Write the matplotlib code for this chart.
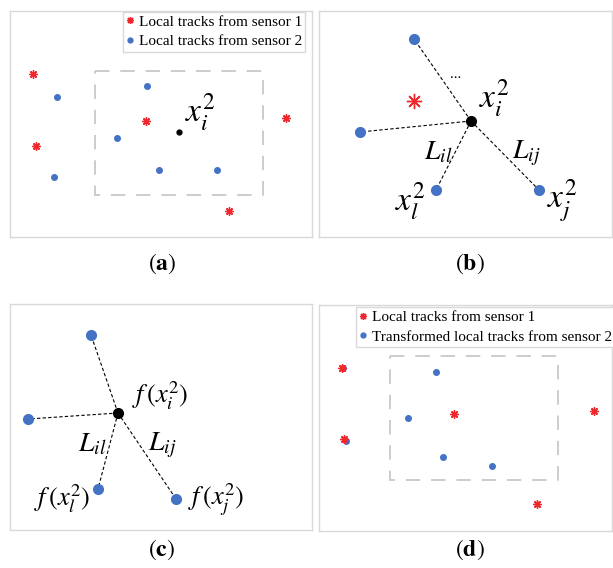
import matplotlib
matplotlib.use('Agg')
import matplotlib.pyplot as plt
from matplotlib.lines import Line2D
from matplotlib.patches import Rectangle

plt.rcParams['font.family'] = ['Liberation Serif', 'DejaVu Serif']
plt.rcParams['mathtext.fontset'] = 'stix'

W, H = 613, 568

# panel frames in image pixels: left, top, width, height
panel_a = (10, 11, 302, 226)
panel_b = (319, 11, 293, 226)
panel_c = (10, 304, 302, 226)
panel_d = (319, 305, 293, 226)

# (a) local tracks, pixel coords inside panel
a_red_x = [23, 26, 136, 276, 219]
a_red_y = [63, 135, 110, 107, 200]
a_blue_x = [47, 44, 137, 107, 149, 207]
a_blue_y = [86, 166, 75, 127, 159, 159]
a_center = (169, 121)
a_gate = (85, 60, 168, 124)

# (b) neighbourhood of x_i^2
b_blue_x = [95, 41, 117, 220]
b_blue_y = [28, 121, 179, 179]
b_center = (152, 110)
b_red = (95, 90)

# (c) transformed neighbourhood
c_blue_x = [81, 18, 88, 166]
c_blue_y = [31, 115, 185, 195]
c_center = (108, 109)

# (d) sensor 1 and transformed sensor 2 tracks
d_red_x = [23, 25, 135, 275, 218]
d_red_y = [63, 134, 109, 106, 199]
d_blue_x = [24, 27, 117, 89, 124, 173]
d_blue_y = [63, 136, 67, 113, 152, 161]
d_gate = (71, 51, 168, 124)

RED = '#F0282D'
BLUE = '#4472C4'
FRAME = '#D9D9D9'
ASTER = (8, 2, 0)

fig = plt.figure(figsize=(W / 100, H / 100), dpi=100)


def make_panel(p):
    l, t, w, h = p
    ax = fig.add_axes([l / W, 1 - (t + h) / H, w / W, h / H])
    ax.set_xlim(0, w)
    ax.set_ylim(h, 0)
    ax.set_xticks([])
    ax.set_yticks([])
    for s in ax.spines.values():
        s.set_color(FRAME)
        s.set_linewidth(1.0)
    return ax


def gate(ax, g):
    x, y, w, h = g
    ax.add_patch(Rectangle((x, y), w, h, fill=False, ec='#C8C8C8', lw=1.3,
                           ls=(0, (8, 6))))


def legend(ax, label2, anchor):
    handles = [Line2D([], [], ls='none', marker=ASTER, color=RED, ms=5, mew=1),
               Line2D([], [], ls='none', marker='o', color=BLUE, ms=3.5)]
    leg = ax.legend(handles, ['Local tracks from sensor 1', label2],
                    loc='upper right', bbox_to_anchor=anchor,
                    fancybox=False, edgecolor=FRAME, framealpha=1,
                    fontsize=11, handlelength=0.5, handletextpad=0.35,
                    borderpad=0.2, labelspacing=0.4, borderaxespad=0)
    leg.get_frame().set_linewidth(1.0)


# (a)
ax = make_panel(panel_a)
gate(ax, a_gate)
ax.plot(a_red_x, a_red_y, ls='none', marker=ASTER, color=RED, ms=6, mew=1)
ax.plot(a_blue_x, a_blue_y, ls='none', marker='o', color=BLUE, ms=4)
ax.plot(*a_center, marker='o', color='black', ms=3.5)
ax.text(190, 101, r'$x_i^2$', fontsize=24, ha='center', va='center')
legend(ax, 'Local tracks from sensor 2', (0.978, 0.996))

# (b)
ax = make_panel(panel_b)
for bx, by in zip(b_blue_x, b_blue_y):
    ax.plot([b_center[0], bx], [b_center[1], by], color='black', lw=0.8,
            ls=(0, (3, 2)))
ax.plot(b_blue_x, b_blue_y, ls='none', marker='o', color=BLUE, ms=7)
ax.plot(*b_center, marker='o', color='black', ms=7)
ax.plot(*b_red, marker=ASTER, color=RED, ms=11, mew=1)
ax.text(137, 64, '...', fontsize=11, ha='center', va='center')
ax.text(175, 87, r'$x_i^2$', fontsize=24, ha='center', va='center')
ax.text(119, 142, r'$L_{il}$', fontsize=20, ha='center', va='center')
ax.text(207, 142, r'$L_{ij}$', fontsize=20, ha='center', va='center')
ax.text(91, 190, r'$x_l^2$', fontsize=24, ha='center', va='center')
ax.text(243, 190, r'$x_j^2$', fontsize=24, ha='center', va='center')

# (c)
ax = make_panel(panel_c)
for cx, cy in zip(c_blue_x, c_blue_y):
    ax.plot([c_center[0], cx], [c_center[1], cy], color='black', lw=0.8,
            ls=(0, (3, 2)))
ax.plot(c_blue_x, c_blue_y, ls='none', marker='o', color=BLUE, ms=7)
ax.plot(*c_center, marker='o', color='black', ms=7)
ax.text(150, 92, r'$f\,(x_i^2)$', fontsize=19, ha='center', va='center')
ax.text(82, 141, r'$L_{il}$', fontsize=20, ha='center', va='center')
ax.text(152, 141, r'$L_{ij}$', fontsize=20, ha='center', va='center')
ax.text(52, 195, r'$f\,(x_l^2)$', fontsize=19, ha='center', va='center')
ax.text(206, 196, r'$f\,(x_j^2)$', fontsize=19, ha='center', va='center')

# (d)
ax = make_panel(panel_d)
gate(ax, d_gate)
ax.plot(d_blue_x, d_blue_y, ls='none', marker='o', color=BLUE, ms=4)
ax.plot(d_red_x, d_red_y, ls='none', marker=ASTER, color=RED, ms=6, mew=1)
legend(ax, 'Transformed local tracks from sensor 2', (1.01, 0.99))

# sub-captions
for cx, cy, s in [(162, 264, 'a'), (470, 264, 'b'), (162, 550, 'c'), (470, 550, 'd')]:
    fig.text(cx / W, 1 - cy / H, r'$(\mathbf{%s})$' % s, fontsize=17,
             ha='center', va='center')

fig.savefig('out.png', dpi=100)
